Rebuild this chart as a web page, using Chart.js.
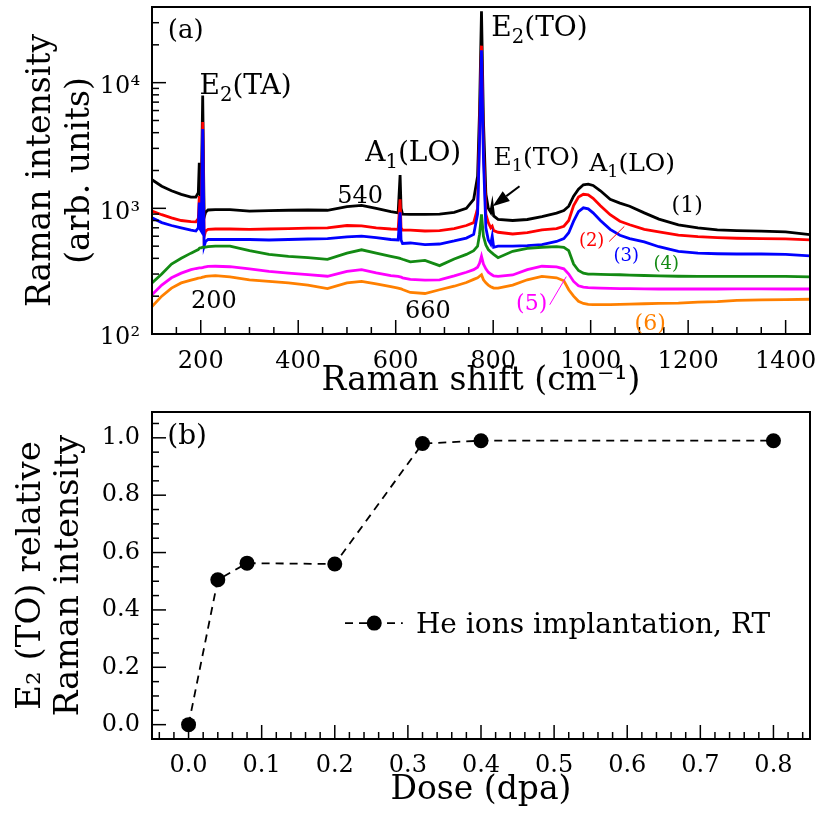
<!DOCTYPE html>
<html><head><meta charset="utf-8">
<script src="https://cdn.jsdelivr.net/npm/chart.js@4"></script>
<style>
html,body{margin:0;padding:0;background:#fff;}
#c1{position:absolute;left:0;top:0;}
#c2{position:absolute;left:0;top:400px;}
</style></head><body>
<canvas id="c1" width="826" height="400"></canvas>
<canvas id="c2" width="826" height="413"></canvas>
<script>
// ---------- data: panel (a) ----------
const shift = [100,120,140,160,180,190,195,197,199,201,204,207,210,215,230,260,300,340,380,420,460,500,530,560,590,605,609,611,614,630,660,690,720,745,760,768,772,776,780,785,790,795,798,801,810,840,870,900,930,945,955,965,975,985,995,1005,1020,1040,1060,1080,1110,1140,1180,1220,1260,1300,1350,1400,1450];
const spec1 = [1690,1500,1380,1290,1230,1230,1330,2300,1250,1200,7900,850,930,970,975,975,950,960,965,970,965,1030,1055,1000,940,920,1840,1000,900,895,895,900,930,1000,1180,1800,6000,37000,5000,1300,1000,930,1076,870,817,800,815,860,915,960,1040,1250,1420,1540,1560,1520,1380,1180,1100,1040,920,820,740,700,675,665,658,650,618];
const spec2 = [950,890,840,800,785,780,830,1250,800,780,4870,600,660,680,685,685,680,685,690,695,700,730,725,700,685,680,1180,700,670,670,660,665,690,730,770,1000,4000,19700,3000,900,770,700,720,665,645,625,640,675,690,720,800,1050,1230,1294,1280,1200,1050,890,790,740,680,650,612,595,585,578,575,572,560];
const spec3 = [840,770,730,700,670,660,700,1110,680,660,4280,500,545,565,565,565,565,560,565,570,575,592,600,585,565,560,930,560,525,530,515,520,550,580,620,900,3500,18100,2500,700,560,520,600,490,500,500,505,515,545,575,640,790,940,1010,990,920,800,680,610,575,540,495,455,440,435,433,433,430,418];
const spec4 = [255,300,360,400,440,460,470,480,485,485,490,490,492,495,500,500,460,430,415,405,392,440,468,440,415,404,400,397,393,375,385,350,395,430,460,500,620,895,600,510,470,450,440,430,405,455,480,490,495,490,460,360,320,305,300,299,298,297,296,294,292,290,288,287,287,287,287,287,285];
const spec5 = [205,245,280,305,325,332,335,336,336,336,338,340,342,345,346,343,330,315,305,297,288,315,325,306,292,287,285,284,280,272,268,270,290,310,325,340,365,415,360,330,310,300,295,290,287,295,325,346,342,330,300,262,242,236,234,233,232,231,230,230,229,228,228,228,228,229,229,228,228];
const spec6 = [165,200,232,255,268,275,278,279,280,281,283,285,287,289,291,285,270,262,255,245,230,255,262,250,238,232,230,229,226,214,210,225,240,257,272,280,288,296,270,255,245,238,235,232,232,245,270,287,280,265,225,200,182,175,172,171,171,171,172,173,174,175,176,179,181,185,187,188,189];
const shiftTicks = [200,400,600,800,1000,1200,1400];
const intensityTicks = [100,1000,10000];
const intensityTickLabels = ['10²','10³','10⁴'];
const seriesNames = ['(1)','(2)','(3)','(4)','(5)','(6)'];

// ---------- data: panel (b) ----------
const dose = [0.0,0.04,0.08,0.2,0.32,0.4,0.8];
const relIntensity = [0.0,0.505,0.563,0.56,0.98,0.99,0.99];
const doseTicks = [0,0.1,0.2,0.3,0.4,0.5,0.6,0.7,0.8];
const relTicks = [0,0.2,0.4,0.6,0.8,1.0];
const legendLabel = 'He ions implantation, RT';

const FONT = '"DejaVu Serif", serif';
Chart.defaults.font.family = FONT;
Chart.defaults.color = '#000';

const colors = ['#000000','#ff0000','#0000ff','#138a13','#ff00ff','#ff8000'];
const allSpec = [spec1,spec2,spec3,spec4,spec5,spec6];

function seg(ctx,x1,y1,x2,y2){ctx.beginPath();ctx.moveTo(x1,y1);ctx.lineTo(x2,y2);ctx.stroke();}
function richText(ctx,str,x,y,size,color,align){
  const parts=[];
  for(let i=0;i<str.length;i++){
    const ch=str[i];
    if((ch==='_'||ch==='^')&&i+1<str.length){parts.push({t:str[i+1],k:ch});i++;}
    else{ if(parts.length&&!parts[parts.length-1].k) parts[parts.length-1].t+=ch; else parts.push({t:ch,k:null}); }
  }
  let w=0;
  parts.forEach(p=>{ctx.font=(p.k?size*0.7:size)+'px '+FONT;p.w=ctx.measureText(p.t).width;w+=p.w;});
  let cx = align==='left'? x : x-w/2;
  const base = y+0.36*size;
  ctx.fillStyle=color;ctx.textBaseline='alphabetic';ctx.textAlign='left';
  parts.forEach(p=>{
    ctx.font=(p.k?size*0.7:size)+'px '+FONT;
    const dy = p.k==='_'?0.25*size:(p.k==='^'?-0.4*size:0);
    ctx.fillText(p.t,cx,base+dy);cx+=p.w;
  });
}
function arrow(ctx,x1,y1,x2,y2){
  const ang=Math.atan2(y2-y1,x2-x1),L=17,W=6;
  const bx=x2-L*Math.cos(ang),by=y2-L*Math.sin(ang);
  seg(ctx,x1,y1,bx,by);
  ctx.beginPath();ctx.moveTo(x2,y2);
  ctx.lineTo(bx+W*Math.sin(ang),by-W*Math.cos(ang));
  ctx.lineTo(bx-W*Math.sin(ang),by+W*Math.cos(ang));
  ctx.closePath();ctx.fill();
}
function noPad(s){s.paddingTop=0;s.paddingBottom=0;s.paddingLeft=0;s.paddingRight=0;}

// annotations of panel (a), anchored in data coordinates (cm^-1, intensity)
const notesA = [
  {t:'(a)',x:169,y:27040,s:26,c:'#000'},
  {t:'E_2(TA)',x:292,y:9820,s:28,c:'#000'},
  {t:'A_1(LO)',x:636,y:2858,s:28,c:'#000'},
  {t:'540',x:527,y:1294,s:24,c:'#000'},
  {t:'200',x:227,y:187,s:24,c:'#000'},
  {t:'660',x:666,y:156,s:24,c:'#000'},
  {t:'E_2(TO)',x:895,y:28050,s:28,c:'#000'},
  {t:'E_1(TO)',x:889,y:2606,s:25,c:'#000'},
  {t:'A_1(LO)',x:1085,y:2333,s:25,c:'#000'},
  {t:seriesNames[0],x:1198,y:1076,s:22,c:colors[0]},
  {t:seriesNames[1],x:1002,y:565,s:18,c:colors[1]},
  {t:seriesNames[2],x:1073,y:429,s:18,c:colors[2]},
  {t:seriesNames[3],x:1155,y:370,s:18,c:colors[3]},
  {t:seriesNames[4],x:879,y:180,s:22,c:colors[4]},
  {t:seriesNames[5],x:1122,y:125,s:22,c:colors[5]}
];

const decorA = {
  id:'decorA',
  afterDraw(chart){
    const {ctx,chartArea:a,scales:{x,y}}=chart;
    ctx.save();
    ctx.strokeStyle='#000';ctx.lineWidth=1.5;
    for(let v=150;v<1450;v+=50){const p=x.getPixelForValue(v);seg(ctx,p,a.bottom,p,a.bottom-(v%200===0?14:7));}
    for(let e=2;e<=4;e++)for(let m=1;m<=9;m++){const v=m*Math.pow(10,e);if(v>=40000)break;if(v<=100)continue;const p=y.getPixelForValue(v);seg(ctx,a.left,p,a.left+(m===1?14:7),p);}
    ctx.lineWidth=2;ctx.strokeRect(a.left,a.top,a.right-a.left,a.bottom-a.top);
    notesA.forEach(n=>richText(ctx,n.t,x.getPixelForValue(n.x),y.getPixelForValue(n.y),n.s,n.c,'center'));
    ctx.lineWidth=1;
    ctx.strokeStyle=colors[1];seg(ctx,x.getPixelForValue(1038),y.getPixelForValue(545),x.getPixelForValue(1069),y.getPixelForValue(718));
    ctx.strokeStyle=colors[4];seg(ctx,x.getPixelForValue(916),y.getPixelForValue(171),x.getPixelForValue(950),y.getPixelForValue(286));
    ctx.strokeStyle='#000';ctx.fillStyle='#000';ctx.lineWidth=2;
    arrow(ctx,x.getPixelForValue(854),y.getPixelForValue(1500),x.getPixelForValue(799),y.getPixelForValue(1038));
    ctx.restore();
  }
};

new Chart(document.getElementById('c1'),{
  type:'line',
  data:{datasets:allSpec.map((s,k)=>({
    label:seriesNames[k],
    data:shift.map((v,i)=>({x:v,y:s[i]})),
    borderColor:colors[k],borderWidth:2.8,pointRadius:0,tension:0,fill:false,order:6-k
  }))},
  options:{
    responsive:false,animation:false,
    layout:{padding:{left:0,right:16,top:7,bottom:0}},
    plugins:{legend:{display:false},tooltip:{enabled:false}},
    scales:{
      x:{type:'linear',min:100,max:1450,grid:{display:false},border:{display:false},
        afterBuildTicks:s=>{s.ticks=shiftTicks.map(v=>({value:v}));},
        afterFit:s=>{s.height=66;noPad(s);},
        ticks:{font:{size:24},padding:5,maxRotation:0,autoSkip:false,callback:v=>String(v)},
        title:{display:true,text:'Raman shift (cm⁻¹)',font:{size:33,lineHeight:1.1},padding:0}},
      y:{type:'logarithmic',min:100,max:40000,grid:{display:false},border:{display:false},
        afterBuildTicks:s=>{s.ticks=intensityTicks.map(v=>({value:v}));},
        afterFit:s=>{s.width=152;noPad(s);},
        ticks:{font:{size:24},padding:4,labelOffset:4,callback:(v)=>{const i=intensityTicks.indexOf(v);return i>=0?intensityTickLabels[i]:'';}},
        title:{display:true,text:['Raman intensity','(arb. units)'],font:{size:33,lineHeight:1.18},padding:{top:22,bottom:0}}}
    }
  },
  plugins:[decorA]
});

// ---------- panel (b) ----------
const decorB = {
  id:'decorB',
  afterDraw(chart){
    const {ctx,chartArea:a,scales:{x,y}}=chart;
    ctx.save();
    ctx.strokeStyle='#000';ctx.lineWidth=1.5;
    for(let k=-2;k<=42;k++){const v=k*0.02;const p=x.getPixelForValue(v);seg(ctx,p,a.bottom,p,a.bottom-(k%5===0?14:7));}
    for(let k=0;k<=21;k++){const v=k*0.05;const p=y.getPixelForValue(v);seg(ctx,a.left,p,a.left+(k%4===0?14:7),p);}
    ctx.lineWidth=2;ctx.strokeRect(a.left,a.top,a.right-a.left,a.bottom-a.top);
    richText(ctx,'(b)',x.getPixelForValue(-0.002),y.getPixelForValue(1.013),28,'#000','center');
    // legend
    const ds=chart.data.datasets[0];
    const ly=y.getPixelForValue(0.354);
    ctx.strokeStyle=ds.borderColor;ctx.lineWidth=ds.borderWidth;ctx.setLineDash(ds.borderDash);
    seg(ctx,x.getPixelForValue(0.214),ly,x.getPixelForValue(0.293),ly);
    ctx.setLineDash([]);
    ctx.fillStyle=ds.pointBackgroundColor;ctx.beginPath();ctx.arc(x.getPixelForValue(0.254),ly,ds.pointRadius,0,Math.PI*2);ctx.fill();
    richText(ctx,ds.label,x.getPixelForValue(0.311),ly,28,'#000','left');
    ctx.restore();
  }
};

new Chart(document.getElementById('c2'),{
  type:'line',
  data:{datasets:[{
    label:legendLabel,
    data:dose.map((d,i)=>({x:d,y:relIntensity[i]})),
    borderColor:'#000',borderWidth:1.8,borderDash:[8,6],
    pointRadius:7.5,pointBackgroundColor:'#000',pointBorderWidth:0,tension:0,fill:false
  }]},
  options:{
    responsive:false,animation:false,
    layout:{padding:{left:0,right:16,top:12,bottom:0}},
    plugins:{legend:{display:false},tooltip:{enabled:false}},
    scales:{
      x:{type:'linear',min:-0.05,max:0.85,grid:{display:false},border:{display:false},
        afterBuildTicks:s=>{s.ticks=doseTicks.map(v=>({value:v}));},
        afterFit:s=>{s.height=74;noPad(s);},
        ticks:{font:{size:24},padding:4,maxRotation:0,autoSkip:false,callback:v=>Number(v).toFixed(1)},
        title:{display:true,text:'Dose (dpa)',font:{size:33,lineHeight:1.1},padding:{top:0,bottom:4}}},
      y:{type:'linear',min:-0.05,max:1.09,grid:{display:false},border:{display:false},
        afterBuildTicks:s=>{s.ticks=relTicks.map(v=>({value:v}));},
        afterFit:s=>{s.width=152;noPad(s);},
        ticks:{font:{size:24},padding:4,callback:v=>Number(v).toFixed(1)},
        title:{display:true,text:['E₂ (TO) relative','Raman intensity'],font:{size:34,lineHeight:1.12},padding:{top:12,bottom:0}}}
    }
  },
  plugins:[decorB]
});
</script>
</body></html>
